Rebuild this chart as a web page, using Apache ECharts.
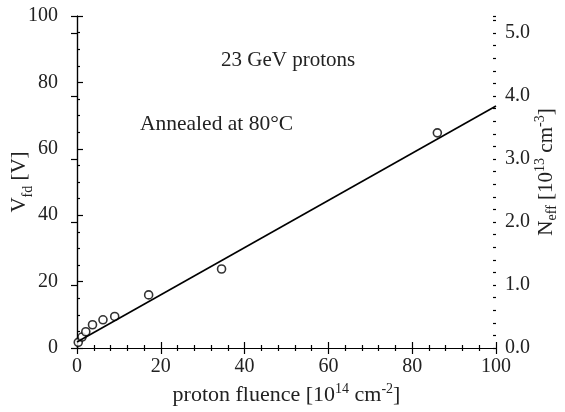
<!DOCTYPE html>
<html><head><meta charset="utf-8">
<script src="https://cdn.jsdelivr.net/npm/echarts@6/dist/echarts.min.js"></script>
<style>html,body{margin:0;padding:0;background:#fff}#c{width:565px;height:412px}</style>
</head><body><div id="c"></div>
<script>
const fluence = [0.3, 1.2, 2.1, 3.7, 6.2, 9.0, 17.1, 34.5, 86.0];
const vfd = [1.7, 3.3, 4.9, 7.0, 8.5, 9.5, 16.0, 23.8, 64.8];
const fitX = [0, 100];
const fitY = [1.8, 72.9];
const neffMax = 5.27;
const annotations = ['23 GeV protons', 'Annealed at 80°C'];

const FONT = 'Liberation Serif';
const txt = {fontFamily: FONT, fontSize: 20, color: '#222'};
const lineStyle = {color: '#000', width: 1.2};
const NF = 21, SF = 14;

const chart = echarts.init(document.getElementById('c'), null, {renderer: 'canvas'});
chart.setOption({
  animation: false,
  backgroundColor: '#fff',
  grid: {left: 77, right: 69, top: 16, bottom: 64, outerBoundsMode: 'none', containLabel: false},
  xAxis: [{
    type: 'value', min: 0, max: 100, interval: 20, position: 'bottom',
    axisLine: {show: true, lineStyle},
    axisTick: {inside: true, length: 6, lineStyle},
    minorTick: {show: true, splitNumber: 5, length: 3, lineStyle},
    splitLine: {show: false},
    axisLabel: Object.assign({margin: 9}, txt),
    name: '{a|proton fluence [10}{sup|14}{a| cm}{sup|-2}{a|]}',
    nameLocation: 'middle', nameGap: 34, nameMoveOverlap: false,
    nameTextStyle: {rich: {
      a: {fontFamily: FONT, fontSize: 22, color: '#222', lineHeight: 24, verticalAlign: 'bottom'},
      sup: {fontFamily: FONT, fontSize: SF, color: '#222', lineHeight: 24, verticalAlign: 'top'}
    }}
  }, {
    type: 'value', min: 0, max: 100, interval: 20, position: 'top',
    axisLine: {show: true, lineStyle},
    axisTick: {inside: true, length: 6, lineStyle},
    minorTick: {show: true, splitNumber: 5, length: 3, lineStyle},
    splitLine: {show: false}, axisLabel: {show: false}
  }],
  yAxis: [{
    type: 'value', min: 0, max: 100, interval: 20, position: 'left',
    axisLine: {show: true, lineStyle},
    axisTick: {inside: true, length: 6, lineStyle},
    minorTick: {show: true, splitNumber: 4, length: 3, lineStyle},
    splitLine: {show: false},
    axisLabel: Object.assign({margin: 19}, txt),
    name: '{a|V}{sub|fd}{a| [V]}',
    nameLocation: 'middle', nameGap: 42, nameRotate: 90, nameMoveOverlap: false,
    nameTextStyle: {rich: {
      a: {fontFamily: FONT, fontSize: NF, color: '#222', lineHeight: 26, verticalAlign: 'top'},
      sub: {fontFamily: FONT, fontSize: SF, color: '#222', lineHeight: 26, verticalAlign: 'bottom'}
    }}
  }, {
    type: 'value', min: 0, max: neffMax, interval: 1, position: 'right',
    axisLine: {show: true, lineStyle},
    axisTick: {inside: true, length: 6, lineStyle},
    splitLine: {show: false},
    axisLabel: Object.assign({margin: 9, formatter: v => (Math.abs(v - Math.round(v)) < 1e-6 ? v.toFixed(1) : '')}, txt),
    name: '{a|N}{sub|eff}{a| [10}{sup|13}{a| cm}{sup|-3}{a|]}',
    nameLocation: 'middle', nameGap: 37, nameRotate: 90, nameMoveOverlap: false,
    nameTextStyle: {padding: [0, 0, 0, 20], rich: {
      a: {fontFamily: FONT, fontSize: NF, color: '#222', lineHeight: 26, verticalAlign: 'middle'},
      sub: {fontFamily: FONT, fontSize: SF, color: '#222', lineHeight: 26, verticalAlign: 'bottom'},
      sup: {fontFamily: FONT, fontSize: SF, color: '#222', lineHeight: 26, verticalAlign: 'top'}
    }}
  }, {
    type: 'value', min: 0, max: neffMax, interval: 0.2, position: 'right',
    axisLine: {show: false},
    axisTick: {inside: true, length: 3, lineStyle},
    splitLine: {show: false}, axisLabel: {show: false}
  }],
  graphic: [
    {type: 'text', left: 221, top: 50, style: {text: annotations[0], font: '21px "Liberation Serif"', fill: '#222'}},
    {type: 'text', left: 140, top: 113, style: {text: annotations[1], font: '21.5px "Liberation Serif"', fill: '#222'}}
  ],
  series: [{
    type: 'line', xAxisIndex: 0, yAxisIndex: 0,
    data: fitX.map((x, i) => [x, fitY[i]]),
    showSymbol: false, lineStyle: {color: '#000', width: 1.6}, silent: true
  }, {
    type: 'scatter', xAxisIndex: 0, yAxisIndex: 0,
    data: fluence.map((x, i) => [x, vfd[i]]),
    symbol: 'circle', symbolSize: 8,
    itemStyle: {color: '#fff', borderColor: '#000', borderWidth: 1.6}
  }]
});
</script></body></html>
